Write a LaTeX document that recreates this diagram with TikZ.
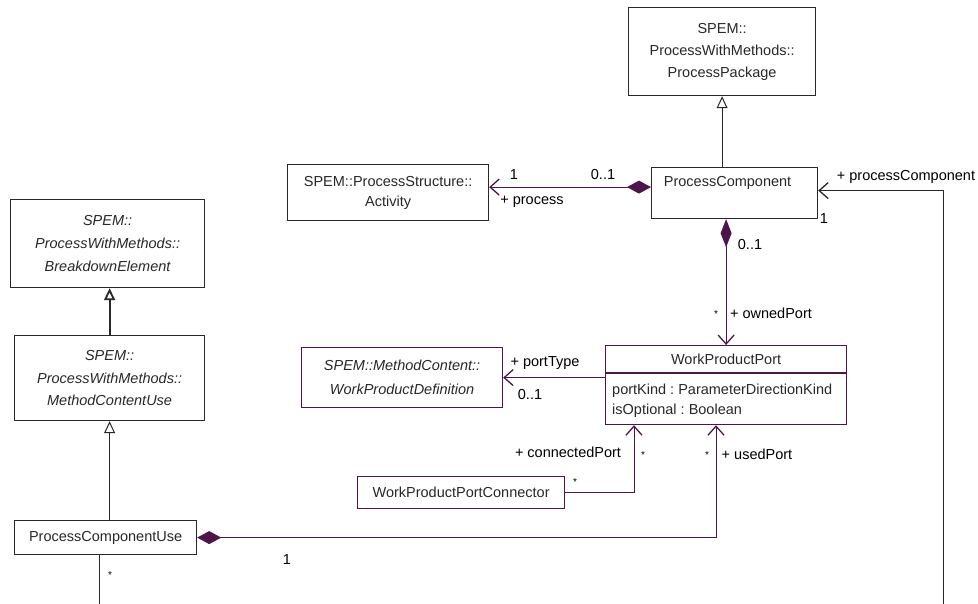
\documentclass[tikz,border=0pt]{standalone}
\usepackage{fontspec}
\setmainfont{Liberation Sans}
\usepackage{xcolor}
\usepackage{tikz}
\usetikzlibrary{shapes,arrows,positioning,calc,arrows.meta}
\frenchspacing

\definecolor{umlpurple}{RGB}{78,22,72}
\definecolor{umlgray}{RGB}{40,40,40}

\tikzset{
    cls/.style={draw=umlgray, line width=1.2pt, fill=white, inner sep=0pt, anchor=north west,
        align=center, text=umlgray, font=\fontsize{14.5}{22}\selectfont},
    pcls/.style={cls, draw=umlpurple},
    txt/.style={inner sep=0pt, text=umlgray, font=\fontsize{14.5}{20}\selectfont},
    lbl/.style={inner sep=0pt, text=black, font=\fontsize{14.5}{17}\selectfont},
    star/.style={inner sep=0pt, text=black, font=\fontsize{10}{12}\selectfont},
    gen/.style={draw=umlgray, line width=1pt, arrows={-Triangle[open, length=12pt, width=11pt, fill=white]}},
    comp/.style={draw=umlpurple, line width=1pt, arrows={Straight Barb[length=9pt, width=16pt, line width=1.3pt]-Diamond[length=24pt, width=13pt]}},
    nav/.style={draw=umlpurple, line width=1pt, arrows={Straight Barb[length=9pt, width=16pt, line width=1.3pt]-}}
}

\begin{document}
\begin{tikzpicture}[x=1pt, y=-1pt]
    \useasboundingbox (0,0) rectangle (978,604);
    \fill [white] (0,0) rectangle (978,604);
    \clip (0,0) rectangle (978,604);

    % Classes
    \node [cls, minimum width=187, minimum height=88] (pkg) at (628,7) {SPEM::\\ProcessWithMethods::\\ProcessPackage};
    \node [cls, minimum width=166, minimum height=51] (pc) at (651,167) {};
    \node [txt] (pctext) at ([xshift=-7pt, yshift=-16pt]pc.north) {ProcessComponent};
    \node [cls, minimum width=201, minimum height=56, font=\fontsize{14.5}{20}\selectfont] (act) at (287,164) {SPEM::ProcessStructure::\\Activity};
    \node [cls, minimum width=194, minimum height=88, font=\fontsize{14.5}{23}\selectfont\itshape] (brk) at (10,199) {SPEM::\\ProcessWithMethods::\\BreakdownElement};
    \node [cls, minimum width=190, minimum height=85, font=\fontsize{14.5}{22.5}\selectfont\itshape] (mcu) at (14,335) {SPEM::\\ProcessWithMethods::\\MethodContentUse};
    \node [cls, minimum width=182, minimum height=34] (pcu) at (14,520) {ProcessComponentUse};
    \node [pcls, minimum width=201, minimum height=60, font=\fontsize{14.5}{24}\selectfont\itshape] (wpd) at (301,347) {SPEM::MethodContent::\\WorkProductDefinition};
    \node [pcls, minimum width=207, minimum height=32] (wppc) at (357,476) {WorkProductPortConnector};

    % WorkProductPort with attribute compartment
    \node [pcls, minimum width=241, minimum height=79] (wpp) at (605,345) {};
    \node [txt] (wpphead) at ([yshift=-14pt]wpp.north) {WorkProductPort};
    \draw [umlpurple, line width=1.2pt] ([yshift=-28pt]wpp.north west) -- ([yshift=-28pt]wpp.north east);
    \node [txt, anchor=west, align=left] (wppattr) at ([xshift=7pt, yshift=-56pt]wpp.north west) {portKind : ParameterDirectionKind\\isOptional : Boolean};

    % Generalizations
    \draw [gen] (pkg.south |- pc.north) -- (pkg.south);
    \draw [gen, line width=1.8pt] (mcu.north) -- (mcu.north |- brk.south);
    \draw [gen] (mcu.south |- pcu.north) -- (mcu.south);

    % Associations
    \coordinate (pcw) at ([yshift=6pt]pc.west);
    \draw [comp] (act.east |- pcw) -- (pcw);
    \draw [comp, arrows={Straight Barb[length=9pt, width=16pt, line width=1.3pt]-Diamond[length=28pt, width=11pt]}] (wpp.north) -- (wpp.north |- pc.south);
    \draw [nav] (wpd.east) -- (wpd.east -| wpp.west);
    \draw [nav, arrows={-Straight Barb[length=9pt, width=16pt, line width=1.3pt]}] (wppc.east) -| ([xshift=29pt]wpp.south west);
    \draw [comp] ([xshift=111pt]wpp.south west) |- (pcu.east);
    \draw [nav, draw=umlgray] ([yshift=2.5pt]pc.east) -| (943,640) -| ([xshift=-6pt]pcu.south);

    % Role names and multiplicities
    \node [lbl] (m1) at (514,175) {1};
    \node [lbl] (m2) at (603,175) {0..1};
    \node [lbl] (r1) at (532,202) {+ process};
    \node [lbl] (r2) at (906,177) {+ processComponent};
    \node [lbl] (m3) at (824,219) {1};
    \node [lbl] (m4) at (750,245) {0..1};
    \node [star] (s1) at (716,314) {*};
    \node [lbl] (r3) at (771,313) {+ ownedPort};
    \node [lbl] (r4) at (545,363) {+ portType};
    \node [lbl] (m5) at (530,395) {0..1};
    \node [lbl] (r5) at (568,452) {+ connectedPort};
    \node [star] (s2) at (643,455) {*};
    \node [star] (s3) at (575,482) {*};
    \node [star] (s4) at (707,455) {*};
    \node [lbl] (r6) at (757,454) {+ usedPort};
    \node [lbl] (m6) at (287,560) {1};
    \node [star] (s5) at (110,575) {*};
\end{tikzpicture}
\end{document}
